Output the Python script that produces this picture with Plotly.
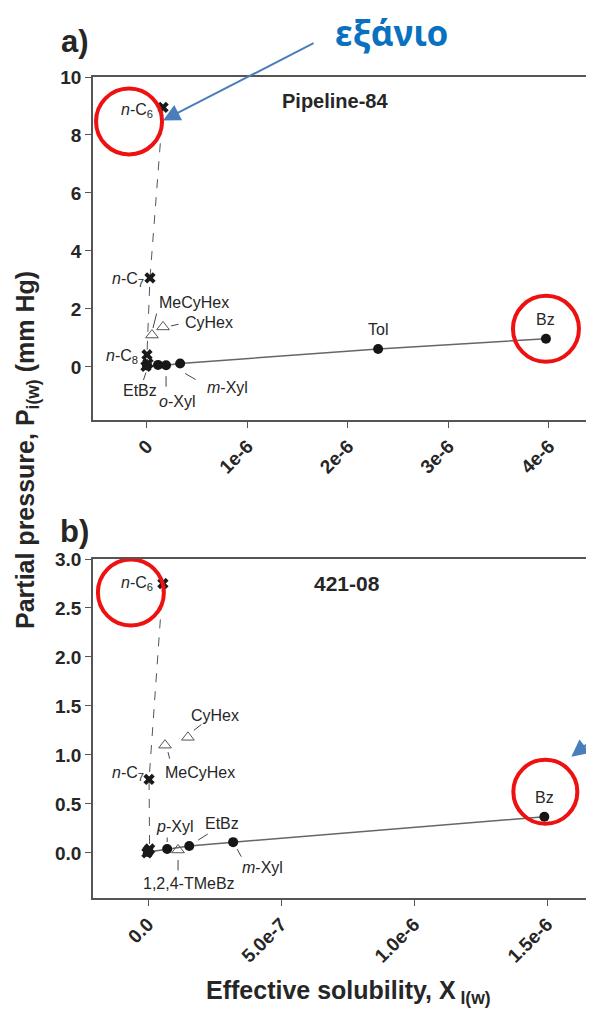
import plotly.graph_objects as go

# The page body adds an 8 px margin, so the figure is laid out in page pixels
# offset by OFF and sized to end at the window edge.
OFF = 8
W, H = 594 - OFF, 1013 - OFF

# ---------------- data: panel a (Pipeline-84) ----------------
a_alk_names = ["n-C6", "n-C7", "n-C8", "", ""]
a_alk_x = [0.16e-6, 0.03e-6, 0.0, 0.01e-6, -0.01e-6]
a_alk_y = [8.95, 3.07, 0.42, 0.12, 0.02]

a_cyc_names = ["MeCyHex", "CyHex"]
a_cyc_x = [0.05e-6, 0.16e-6]
a_cyc_y = [1.10, 1.38]

a_aro_names = ["EtBz", "", "o-Xyl", "m-Xyl", "Tol", "Bz"]
a_aro_x = [0.0, 0.11e-6, 0.19e-6, 0.33e-6, 2.30e-6, 3.97e-6]
a_aro_y = [0.05, 0.07, 0.06, 0.12, 0.62, 0.97]

a_xticks = [0, 1e-6, 2e-6, 3e-6, 4e-6]
a_xticktext = ["0", "1e-6", "2e-6", "3e-6", "4e-6"]
a_yticks = [0, 2, 4, 6, 8, 10]
a_yticktext = ["0", "2", "4", "6", "8", "10"]

# ---------------- data: panel b (421-08) ----------------
b_alk_names = ["n-C6", "n-C7", "", "", ""]
b_alk_x = [0.056e-6, 0.004e-6, 0.006e-6, 0.0, -0.004e-6]
b_alk_y = [2.75, 0.75, 0.04, 0.02, 0.0]

b_cyc_names = ["MeCyHex", "CyHex", "1,2,4-TMeBz"]
b_cyc_x = [0.064e-6, 0.15e-6, 0.113e-6]
b_cyc_y = [1.10, 1.18, 0.03]

b_aro_names = ["", "p-Xyl", "EtBz", "m-Xyl", "Bz"]
b_aro_x = [0.0, 0.072e-6, 0.155e-6, 0.32e-6, 1.49e-6]
b_aro_y = [0.01, 0.04, 0.07, 0.11, 0.37]

b_xticks = [0, 5e-7, 1e-6, 1.5e-6]
b_xticktext = ["0.0", "5.0e-7", "1.0e-6", "1.5e-6"]
b_yticks = [0, 0.5, 1.0, 1.5, 2.0, 2.5, 3.0]
b_yticktext = ["0.0", "0.5", "1.0", "1.5", "2.0", "2.5", "3.0"]

panel_titles = ["Pipeline-84", "421-08"]
panel_letters = ["a)", "b)"]
x_title = "Effective solubility, X<sub> I(w)</sub>"
y_title = "Partial pressure, P<sub>i(w)</sub> (mm Hg)"
callout = "εξάνιο"

# ---------------- style ----------------
FONT = "Liberation Sans, Arial, Helvetica, sans-serif"
TXT = "#262626"
AXC = "#555555"


def fx(px):
    return (px - OFF) / W


def fy(py):
    return 1 - (py - OFF) / H


fig = go.Figure()


def add_panel(ax_x, ax_y, alk, cyc, aro):
    xr = "x" if ax_x == 1 else "x%d" % ax_x
    yr = "y" if ax_y == 1 else "y%d" % ax_y
    ax, ay = alk
    order = sorted(range(len(ay)), key=lambda i: -ay[i])
    fig.add_trace(go.Scatter(x=[ax[i] for i in order], y=[ay[i] for i in order],
                             mode="lines", line=dict(color="#555", width=1, dash="dash"),
                             xaxis=xr, yaxis=yr, hoverinfo="skip", showlegend=False))
    rx, ry = aro
    order = sorted(range(len(rx)), key=lambda i: rx[i])
    fig.add_trace(go.Scatter(x=[rx[i] for i in order], y=[ry[i] for i in order],
                             mode="lines", line=dict(color="#666", width=1.5),
                             xaxis=xr, yaxis=yr, hoverinfo="skip", showlegend=False))
    cx, cy = cyc
    fig.add_trace(go.Scatter(x=cx, y=cy, mode="markers",
                             marker=dict(symbol="triangle-up-open", size=11, color="#555",
                                         line=dict(color="#555", width=1)),
                             xaxis=xr, yaxis=yr, showlegend=False))
    fig.add_trace(go.Scatter(x=rx, y=ry, mode="markers",
                             marker=dict(symbol="circle", size=10, color="#161616"),
                             xaxis=xr, yaxis=yr, showlegend=False))
    fig.add_trace(go.Scatter(x=ax, y=ay, mode="markers",
                             marker=dict(symbol="x", size=10, color="#1a1a1a",
                                         line=dict(width=0)),
                             xaxis=xr, yaxis=yr, showlegend=False))


add_panel(1, 1, (a_alk_x, a_alk_y), (a_cyc_x, a_cyc_y), (a_aro_x, a_aro_y))
add_panel(2, 2, (b_alk_x, b_alk_y), (b_cyc_x, b_cyc_y), (b_aro_x, b_aro_y))


def fmt_name(n):
    if n.startswith("n-C"):
        return "<i>n</i>-C<sub>%s</sub>" % n[3:]
    if n in ("o-Xyl", "m-Xyl", "p-Xyl"):
        return "<i>%s</i>-Xyl" % n[0]
    return n


# label placement: text offset (dx, dy) in screen px, anchor, leader (head dx,dy, tail dx,dy)
label_style = {
    1: {
        "n-C6": (-8, 3, "right", None),
        "n-C7": (-4, 2, "right", None),
        "n-C8": (-7, 2, "right", None),
        "MeCyHex": (42, -33, "center", (1, -7, 5, -23)),
        "CyHex": (20, -4, "left", (8, -1, 17, -3)),
        "EtBz": (-7, 25, "center", (-1, 7, -4, 16)),
        "o-Xyl": (11, 36, "center", (0, 11, 0, 23)),
        "m-Xyl": (47, 24, "center", (5, 10, 17, 17)),
        "Tol": (0, -19, "center", None),
        "Bz": (0, -19, "center", None),
    },
    2: {
        "n-C6": (-8, 0, "right", None),
        "n-C7": (-3, -6, "right", None),
        "MeCyHex": (35, 27, "center", (3, 7, 5, 15)),
        "CyHex": (27, -22, "center", (6, -7, 15, -14)),
        "p-Xyl": (7, -23, "center", (0, -7, 0, -13)),
        "EtBz": (33, -23, "center", (9, -6, 20, -13)),
        "m-Xyl": (29, 25, "center", (4, 7, 9, 16)),
        "1,2,4-TMeBz": (11, 34, "center", (0, 10, 0, 22)),
        "Bz": (0, -19, "center", None),
    },
}

panel_sets = {
    1: [(a_alk_names, a_alk_x, a_alk_y), (a_cyc_names, a_cyc_x, a_cyc_y),
        (a_aro_names, a_aro_x, a_aro_y)],
    2: [(b_alk_names, b_alk_x, b_alk_y), (b_cyc_names, b_cyc_x, b_cyc_y),
        (b_aro_names, b_aro_x, b_aro_y)],
}

annotations = []
point_lookup = {}
for p, sets in panel_sets.items():
    xr = "x" if p == 1 else "x2"
    yr = "y" if p == 1 else "y2"
    for names, xs, ys in sets:
        for n, xv, yv in zip(names, xs, ys):
            if not n:
                continue
            point_lookup[(p, n)] = (xv, yv)
            dx, dy, anc, lead = label_style[p][n]
            annotations.append(dict(x=xv, y=yv, xref=xr, yref=yr, text=fmt_name(n),
                                    showarrow=False, xshift=dx, yshift=-dy,
                                    xanchor=anc, yanchor="middle",
                                    font=dict(family=FONT, size=16, color=TXT)))
            if lead:
                hx, hy, tx, ty = lead
                annotations.append(dict(x=xv, y=yv, xref=xr, yref=yr, text="",
                                        showarrow=True, arrowhead=0, arrowwidth=1,
                                        arrowcolor="#444", xshift=hx, yshift=-hy,
                                        ax=tx - hx, ay=ty - hy, axref="pixel", ayref="pixel"))


def paper_text(px, py, text, font, angle=0):
    return dict(x=fx(px), y=fy(py), xref="paper", yref="paper", text=text,
                xanchor="center", yanchor="middle", textangle=angle,
                showarrow=False, font=font)


annotations += [
    paper_text(335, 101, panel_titles[0], dict(family=FONT, size=20, color=TXT, weight="bold")),
    paper_text(347, 583, panel_titles[1], dict(family=FONT, size=21, color=TXT, weight="bold")),
    paper_text(75, 41, panel_letters[0], dict(family=FONT, size=31, color=TXT, weight="bold")),
    paper_text(74, 531, panel_letters[1], dict(family=FONT, size=31, color=TXT, weight="bold")),
    paper_text(27, 450, y_title, dict(family=FONT, size=25, color=TXT, weight="bold"), -90),
    paper_text(348, 992, x_title, dict(family=FONT, size=25, color=TXT, weight="bold")),
    paper_text(391, 33, callout, dict(family="Noto Sans, Open Sans, sans-serif", size=35,
                                      color="#0a70c0", weight="bold")),
]

x6, y6 = point_lookup[(1, "n-C6")]
annotations.append(dict(x=x6, y=y6, xref="x", yref="y", text="", showarrow=True,
                        arrowhead=2, arrowsize=1.7, arrowwidth=2, arrowcolor="#4a7ebb",
                        xshift=0, yshift=-13, ax=152, ay=-78, axref="pixel", ayref="pixel"))
xb, yb = point_lookup[(2, "Bz")]
annotations.append(dict(x=xb, y=yb, xref="x2", yref="y2", text="", showarrow=True,
                        arrowhead=2, arrowsize=1.7, arrowwidth=2, arrowcolor="#4a7ebb",
                        xshift=27, yshift=60, ax=38, ay=-30, axref="pixel", ayref="pixel"))

shapes = []
for (p, n), (ox, oy, r) in {(1, "n-C6"): (-34, 14, 33), (1, "Bz"): (0, -10, 33),
                            (2, "n-C6"): (-32, 9, 33), (2, "Bz"): (1, -25, 32)}.items():
    xv, yv = point_lookup[(p, n)]
    shapes.append(dict(type="circle", xref="x" if p == 1 else "x2",
                       yref="y" if p == 1 else "y2", xsizemode="pixel", ysizemode="pixel",
                       xanchor=xv, yanchor=yv, x0=ox - r, x1=ox + r, y0=-oy - r, y1=-oy + r,
                       line=dict(color="#ee1111", width=4)))

tickfont = dict(family=FONT, size=19, color=TXT, weight="bold")
common_axis = dict(showline=True, linecolor=AXC, linewidth=1.5, ticks="outside",
                   ticklen=6, tickcolor=AXC, tickwidth=1.2, showgrid=False,
                   zeroline=False, tickfont=tickfont, automargin=False)

fig.update_layout(
    width=W, height=H, margin=dict(l=0, r=0, t=0, b=0, autoexpand=False),
    paper_bgcolor="white", plot_bgcolor="white", showlegend=False,
    xaxis=dict(domain=[fx(93), 1], anchor="y", range=[-0.537e-6, 4.448e-6],
               tickvals=a_xticks, ticktext=a_xticktext, tickangle=-45, mirror=True,
               **common_axis),
    yaxis=dict(domain=[fy(420), fy(77)], anchor="x", range=[-1.83, 10],
               tickvals=a_yticks, ticktext=a_yticktext, **common_axis),
    xaxis2=dict(domain=[fx(93), 1], anchor="y2", range=[-0.2068e-6, 1.6767e-6],
                tickvals=b_xticks, ticktext=b_xticktext, tickangle=-45, mirror=True,
                **common_axis),
    yaxis2=dict(domain=[fy(898), fy(559)], anchor="x2", range=[-0.46, 3.0],
                tickvals=b_yticks, ticktext=b_yticktext, **common_axis),
    annotations=annotations, shapes=shapes,
)

fig.write_html("out.html")
